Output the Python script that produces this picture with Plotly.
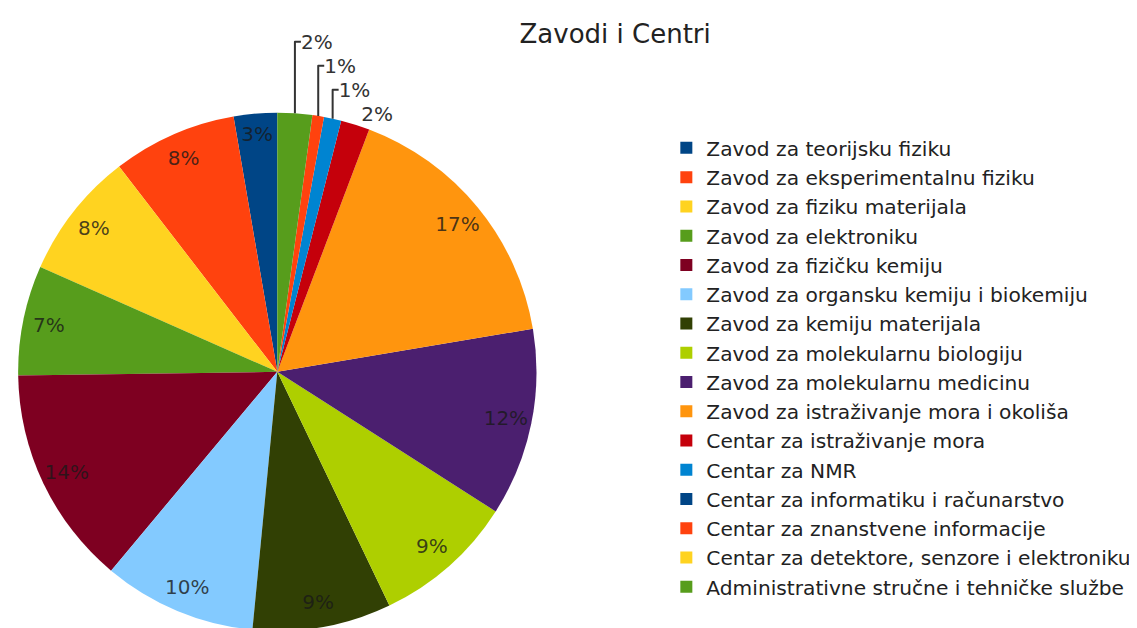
import plotly.graph_objects as go

title = "Zavodi i Centri"
categories = [
    "Zavod za teorijsku fiziku",
    "Zavod za eksperimentalnu fiziku",
    "Zavod za fiziku materijala",
    "Zavod za elektroniku",
    "Zavod za fizičku kemiju",
    "Zavod za organsku kemiju i biokemiju",
    "Zavod za kemiju materijala",
    "Zavod za molekularnu biologiju",
    "Zavod za molekularnu medicinu",
    "Zavod za istraživanje mora i okoliša",
    "Centar za istraživanje mora",
    "Centar za NMR",
    "Centar za informatiku i računarstvo",
    "Centar za znanstvene informacije",
    "Centar za detektore, senzore i elektroniku",
    "Administrativne stručne i tehničke službe",
]
values = [15, 43, 44, 38, 76, 53, 48, 49, 65, 92, 10, 6, 0, 4, 0, 12]
colors = [
    "#004586", "#ff420e", "#ffd320", "#579d1c", "#7e0021", "#83caff",
    "#314004", "#aecf00", "#4b1f6f", "#ff950e", "#c5000b", "#0084d1",
    "#004586", "#ff420e", "#ffd320", "#579d1c",
]
label_pos = [
    "inside", "inside", "inside", "inside", "inside", "inside",
    "inside", "inside", "inside", "inside", "outside", "outside",
    "none", "outside", "none", "outside",
]

FONT = "DejaVu Sans"
dom_x = [0.0044, 0.4653]
dom_y = [0.0, 0.832]
# plotly's counterclockwise pies end the first slice at the start angle;
# rotate so the first slice begins at 12 o'clock like the reference
start_rot = -360.0 * values[0] / sum(values)

common = dict(labels=categories, values=values, sort=False,
              direction="counterclockwise", rotation=start_rot,
              domain=dict(x=dom_x, y=dom_y))

fig = go.Figure()
fig.add_trace(go.Pie(
    **common,
    marker=dict(colors=colors, line=dict(width=0)),
    textinfo="none", hoverinfo="label+percent",
))
fig.add_trace(go.Pie(
    **common, hole=0.8,
    marker=dict(colors=["rgba(0,0,0,0)"] * len(values), line=dict(width=0)),
    texttemplate="%{percent:.0%}", textposition=label_pos,
    insidetextorientation="horizontal",
    textfont=dict(family=FONT, size=20, color="rgba(25,25,25,0.8)"),
    outsidetextfont=dict(family=FONT, size=20, color="#333333"),
    showlegend=False, hoverinfo="skip",
))

fig.update_layout(
    width=1137, height=628,
    margin=dict(l=0, r=0, t=0, b=0),
    paper_bgcolor="white", plot_bgcolor="white",
    title=dict(text=title, x=0.534, xref="container", xanchor="center",
               y=0.9586, yref="container", yanchor="middle",
               font=dict(family=FONT, size=26, color="#222222")),
    legend=dict(x=0.5779, y=0.807, xanchor="left", yanchor="top",
                font=dict(family=FONT, size=20.2, color="#222222"),
                bgcolor="rgba(0,0,0,0)", traceorder="normal"),
    showlegend=True,
)

fig.write_html("out.html")
